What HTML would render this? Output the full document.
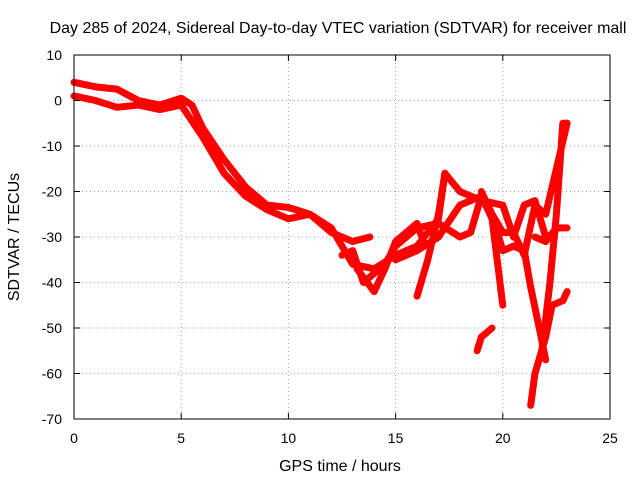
<!DOCTYPE html>
<html><head><meta charset="utf-8"><style>
body{margin:0;background:#fff;}
svg text{font-family:"Liberation Sans",sans-serif;font-size:14px;fill:#000;}
svg text.big{font-size:16px;}
</style></head><body>
<svg id="chart" width="640" height="480" xmlns="http://www.w3.org/2000/svg">
<text class="big" x="338" y="33" text-anchor="middle">Day 285 of 2024, Sidereal Day-to-day VTEC variation (SDTVAR) for receiver mall</text>
<text class="big" x="340" y="471" text-anchor="middle">GPS time / hours</text>
<text class="big" x="19" y="237" text-anchor="middle" transform="rotate(-90 19 237)">SDTVAR / TECUs</text>
<g id="grid"></g><g id="series"></g><g id="axes"></g>
</svg>
<script>
const xTicks=[0,5,10,15,20,25];
const yTicks=[-70,-60,-50,-40,-30,-20,-10,0,10];
const s1=[[0,4],[1,3],[2,2.5],[3,0],[4,-1],[5,0.5],[5.5,-1],[6,-6],[7,-13],[8,-19],[9,-23],[10,-23.5],[11,-25],[12,-29],[13,-31],[13.8,-30]];
const s2=[[0,1],[1,0],[2,-1.5],[3,-1],[4,-2],[5,-1],[6,-8],[7,-16],[8,-21],[9,-24],[10,-26],[11,-25],[12,-28],[13,-36],[14,-37],[15,-34],[16,-32],[17,-26],[17.3,-16],[18,-20],[19,-22],[20,-23],[20.5,-30],[21,-23],[21.5,-22],[22,-30]];
const s3=[[12.5,-34],[13,-33],[13.5,-40],[14,-38],[14.5,-36],[15,-32],[16,-28],[17,-27],[18,-30],[18.5,-29],[19,-21],[20,-29],[20.5,-29],[21,-34],[21.5,-23],[22,-25],[22.5,-15],[23,-5]];
const s4=[[13.2,-37],[14,-42],[14.5,-37],[15,-31],[15.5,-29],[16,-27],[16.3,-31]];
const s5=[[15,-35],[16,-33],[17,-30]];
const s6=[[16,-43],[16.5,-35],[17,-25],[17.3,-16]];
const s7=[[17,-30],[18,-23],[18.5,-22],[19,-21],[19.5,-26],[20,-45]];
const s8=[[18.8,-55],[19,-52],[19.5,-50]];
const s9=[[19,-20],[19.5,-25],[20,-33],[20.5,-32],[21,-33],[21.3,-41],[21.7,-50],[22,-57]];
const s10=[[21.3,-67],[21.5,-60],[22,-52],[22.3,-45],[22.8,-44],[23,-42]];
const s11=[[21.8,-56],[22.2,-40],[22.5,-25],[22.8,-5],[23,-5]];
const s12=[[21.5,-30],[22,-31],[22.5,-28],[23,-28]];
const allSeries=[s1,s2,s3,s4,s5,s6,s7,s8,s9,s10,s11,s12];
const L=74,R=610,T=55,B=419;
const xs=v=>L+(v-0)/25*(R-L);
const ys=v=>B-(v+70)/80*(B-T);
const NS="http://www.w3.org/2000/svg";
function mk(parent,tag,attrs){const e=document.createElementNS(NS,tag);for(const k in attrs)e.setAttribute(k,attrs[k]);document.getElementById(parent).appendChild(e);return e;}
xTicks.forEach(t=>{
  if(t>0&&t<25){const g=mk('grid','line',{x1:xs(t),x2:xs(t),y1:T,y2:B,stroke:'#a0a0a0','stroke-dasharray':'1,3'});
  
  }
  const tk=mk('axes','text',{x:xs(t),y:B+24,'text-anchor':'middle'});tk.textContent=t;
  
  
  mk('axes','line',{x1:xs(t),x2:xs(t),y1:B,y2:B-6,stroke:'#000'});
  mk('axes','line',{x1:xs(t),x2:xs(t),y1:T,y2:T+6,stroke:'#000'});
});
yTicks.forEach(t=>{
  if(t>-70&&t<10){const g=mk('grid','line',{x1:L,x2:R,y1:ys(t),y2:ys(t),stroke:'#a0a0a0','stroke-dasharray':'1,3'});
  
  }
  const tk=mk('axes','text',{x:L-12,y:ys(t)+5,'text-anchor':'end'});tk.textContent=t;
  
  
  mk('axes','line',{x1:L,x2:L+6,y1:ys(t),y2:ys(t),stroke:'#000'});
  mk('axes','line',{x1:R,x2:R-6,y1:ys(t),y2:ys(t),stroke:'#000'});
});
const fr=mk('axes','rect',{x:L,y:T,width:R-L,height:B-T,fill:'none',stroke:'#000'});


allSeries.forEach((s,i)=>{
  const p=mk('series','polyline',{points:s.map(d=>xs(d[0])+','+ys(d[1])).join(' '),fill:'none',stroke:'#ff0000','stroke-width':7,'stroke-linejoin':'round','stroke-linecap':'round'});
  
  
});
</script>
</body></html>
